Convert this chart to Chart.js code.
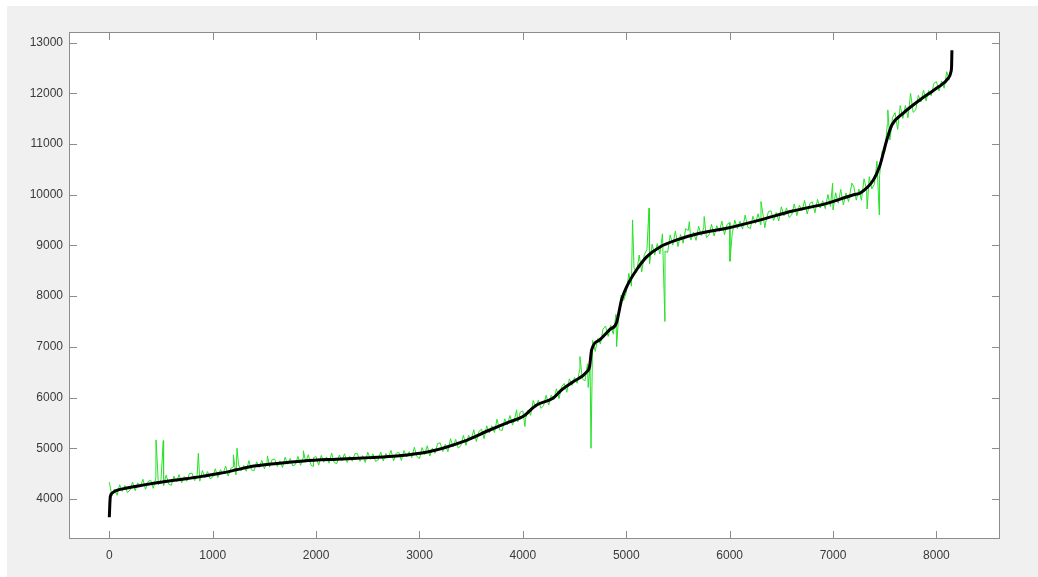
<!DOCTYPE html>
<html>
<head>
<meta charset="utf-8">
<script src="https://cdn.jsdelivr.net/npm/chart.js@4"></script>
<style>
  html, body { margin: 0; padding: 0; background: #ffffff; }
  #frame { position: absolute; left: 7px; top: 6px; width: 1031px; height: 571px; background: #f0f0f0; }
  #c { position: absolute; left: 0; top: 0; }
</style>
</head>
<body>
<div id="frame"></div>
<canvas id="c" width="1038" height="577"></canvas>
<script>
// ---- Data ----
const xTicks = [0, 1000, 2000, 3000, 4000, 5000, 6000, 7000, 8000];
const yTicks = [4000, 5000, 6000, 7000, 8000, 9000, 10000, 11000, 12000, 13000];

// smooth (black) curve
const fitX = [0, 5, 10, 30, 60, 170, 430, 650, 880, 1070, 1230, 1360, 1620, 1880, 2200, 2520, 2780, 3100, 3420, 3680, 3870, 4000, 4130, 4290, 4375, 4490, 4620, 4645, 4665, 4745, 4840, 4905, 4955, 5005, 5100, 5200, 5330, 5490, 5710, 5970, 6290, 6610, 6940, 7200, 7260, 7390, 7450, 7520, 7570, 7680, 7840, 8000, 8115, 8140, 8147, 8150];
const fitY = [3640, 3900, 4050, 4120, 4160, 4215, 4310, 4375, 4440, 4505, 4575, 4635, 4700, 4750, 4785, 4815, 4845, 4935, 5130, 5360, 5520, 5625, 5850, 5985, 6150, 6315, 6510, 6610, 6940, 7140, 7340, 7470, 7930, 8190, 8520, 8780, 8975, 9110, 9240, 9340, 9500, 9680, 9830, 10000, 10030, 10290, 10555, 11080, 11380, 11610, 11870, 12100, 12300, 12420, 12550, 12850];

// raw (green) signal, one sample every greenStep units starting at 0
const greenStep = 25;
const greenY = [
  4330,4060,4195,4073,4280,4149,4267,4127,
  4172,4334,4163,4317,4236,4389,4191,4344,
  4371,4209,4406,4277,4384,4265,4471,4289,
  4270,4448,4339,4481,4318,4442,4350,4501,
  4508,4362,4477,4350,4558,4423,4540,4396,
  4432,4595,4424,4577,4497,4650,4452,4605,
  4633,4473,4674,4550,4661,4546,4756,4576,
  4555,4732,4621,4762,4597,4720,4627,4778,
  4785,4638,4751,4621,4824,4685,4798,4650,
  4682,4839,4664,4813,4726,4872,4668,4814,
  4835,4667,4859,4726,4828,4705,4906,4719,
  4695,4868,4754,4891,4722,4842,4745,4891,
  4894,4743,4853,4721,4921,4779,4890,4740,
  4770,4926,4749,4896,4809,4956,4752,4899,
  4923,4759,4955,4827,4933,4814,5019,4837,
  4797,5013,4877,5049,4847,5005,4899,5091,
  5106,4934,5081,4931,5189,5028,5175,5003,
  5052,5255,5057,5255,5167,5365,5134,5332,
  5377,5190,5443,5300,5443,5310,5573,5363,
  5351,5581,5459,5645,5456,5619,5518,5715,
  5735,5573,5755,5650,5942,5801,5953,5786,
  5839,6046,5851,6049,5962,6173,5980,6216,
  6278,6104,6370,6240,6396,6282,6559,6368,
  6330,6665,6640,7125,6910,7165,7055,7350,
  7410,7205,7425,7250,7640,7590,8020,7915,
  8068,8447,8197,8559,8469,8811,8480,8822,
  8916,8633,9025,8810,9037,8834,9228,8891,
  8860,9208,9007,9282,8979,9215,9043,9330,
  9295,9106,9265,9100,9379,9197,9351,9157,
  9203,9417,9186,9388,9277,9479,9212,9414,
  9451,9236,9500,9333,9477,9322,9598,9359,
  9335,9576,9432,9625,9409,9580,9462,9668,
  9682,9492,9650,9484,9762,9584,9742,9552,
  9602,9818,9589,9792,9684,9887,9622,9826,
  9861,9644,9908,9739,9882,9725,10004,9768,
  9699,10038,9833,10104,9798,10035,9864,10153,
  10170,9894,10110,9890,10314,10092,10356,10117,
  10210,10660,10375,10860,10840,11380,11080,11520,
  11620,11290,11760,11505,11760,11520,12000,11625,
  11675,11962,11833,12063,11851,12055,11952,12195,
  12230,12049,12245,12100,12426,12258
];

// isolated single-sample spikes in the green signal
const spikeX = [452, 522, 861, 1200, 1235, 1530, 1877, 1974, 3940, 4020, 4552, 4632, 4659, 4907, 5061, 5220, 5374, 5610, 5754, 6003, 6303, 6340, 6996, 7180, 7330, 7447, 7530];
const spikeY = [5165, 5150, 4900, 4870, 5000, 4850, 4950, 4640, 5757, 5430, 6808, 6200, 5000, 7005, 9504, 9735, 7500, 9470, 9570, 8688, 9865, 9350, 10227, 10230, 9720, 9602, 11673];

// ---- build datasets from the arrays ----
const greenPts = greenY.map((v, i) => ({ x: i * greenStep, y: v }))
  .concat(spikeX.map((x, i) => ({ x: x, y: spikeY[i] })))
  .sort((a, b) => a.x - b.x);
const fitPts = fitX.map((x, i) => ({ x: x, y: fitY[i] }));

const AXIS_COLOR = '#8c8c8c';
const TEXT_COLOR = '#3a3a3a';

const matlabAxes = {
  id: 'matlabAxes',
  beforeDatasetsDraw(chart) {
    const { ctx, chartArea: a } = chart;
    ctx.save();
    ctx.fillStyle = '#ffffff';
    ctx.fillRect(a.left, a.top, a.right - a.left, a.bottom - a.top);
    ctx.restore();
  },
  afterDraw(chart) {
    const { ctx, chartArea: a, scales } = chart;
    ctx.save();
    ctx.strokeStyle = AXIS_COLOR;
    ctx.lineWidth = 1;
    ctx.strokeRect(Math.round(a.left) + 0.5, Math.round(a.top) + 0.5,
                   Math.round(a.right - a.left) - 1, Math.round(a.bottom - a.top) - 1);
    const L = 8;
    ctx.beginPath();
    xTicks.forEach(v => {
      const px = Math.round(scales.x.getPixelForValue(v)) + 0.5;
      ctx.moveTo(px, a.bottom); ctx.lineTo(px, a.bottom - L);
      ctx.moveTo(px, a.top); ctx.lineTo(px, a.top + L);
    });
    yTicks.forEach(v => {
      const py = Math.round(scales.y.getPixelForValue(v)) + 0.5;
      ctx.moveTo(a.left, py); ctx.lineTo(a.left + L, py);
      ctx.moveTo(a.right, py); ctx.lineTo(a.right - L, py);
    });
    ctx.stroke();
    ctx.restore();
  }
};

new Chart(document.getElementById('c'), {
  type: 'line',
  data: {
    datasets: [
      {
        label: 'fit',
        data: fitPts,
        borderColor: '#000000',
        borderWidth: 3,
        pointRadius: 0,
        cubicInterpolationMode: 'monotone',
        fill: false,
        order: 0
      },
      {
        label: 'raw',
        data: greenPts,
        borderColor: 'rgb(40,225,40)',
        borderWidth: 1,
        pointRadius: 0,
        tension: 0,
        fill: false,
        order: 1
      }
    ]
  },
  options: {
    responsive: false,
    animation: false,
    devicePixelRatio: 1,
    layout: { padding: { left: 0, top: 32, right: 38, bottom: 0 } },
    plugins: { legend: { display: false }, tooltip: { enabled: false } },
    scales: {
      x: {
        type: 'linear',
        min: -390,
        max: 8615,
        afterFit: s => { s.height = 38; },
        afterBuildTicks: s => { s.ticks = xTicks.map(v => ({ value: v })); },
        grid: { display: false, drawTicks: false },
        border: { display: false },
        ticks: {
          includeBounds: false,
          autoSkip: false,
          maxRotation: 0,
          padding: 9,
          color: TEXT_COLOR,
          font: { family: 'Liberation Sans, Arial, sans-serif', size: 12 },
          callback: v => String(v)
        }
      },
      y: {
        type: 'linear',
        min: 3210,
        max: 13210,
        afterFit: s => { s.width = 69; },
        afterBuildTicks: s => { s.ticks = yTicks.map(v => ({ value: v })); },
        grid: { display: false, drawTicks: false },
        border: { display: false },
        ticks: {
          includeBounds: false,
          autoSkip: false,
          padding: 6,
          color: TEXT_COLOR,
          font: { family: 'Liberation Sans, Arial, sans-serif', size: 12 },
          callback: v => String(v)
        }
      }
    }
  },
  plugins: [matlabAxes]
});
</script>
</body>
</html>
